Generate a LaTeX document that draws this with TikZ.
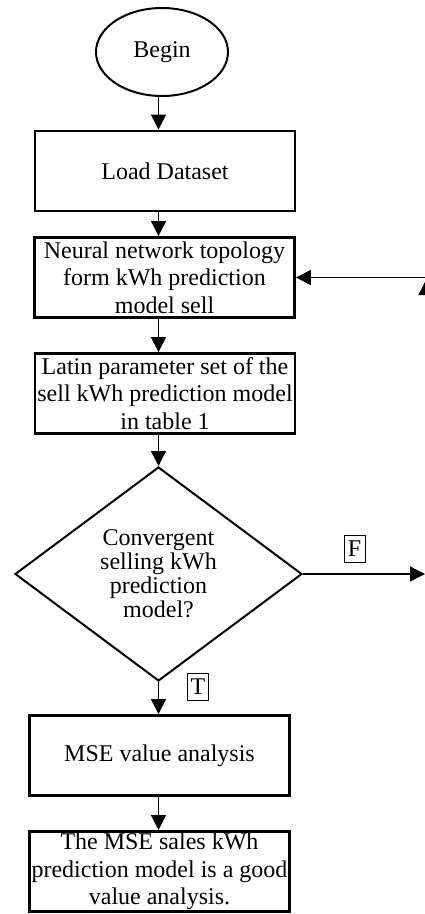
\documentclass[tikz,border=0pt]{standalone}
\usepackage{fontspec}
\setmainfont{Liberation Serif}
\usetikzlibrary{arrows.meta,shapes.geometric}
\tikzset{
	stepbox/.style={draw, line width=1mm, minimum width=260pt, minimum height=80pt, inner sep=0pt, align=center, font=\fontsize{24}{27.5}\selectfont},
	startend/.style={draw, ellipse, line width=0.7mm, minimum width=132pt, minimum height=88pt, inner sep=0pt, font=\fontsize{24}{27.5}\selectfont},
	test/.style={draw, diamond, line width=0.7mm, minimum width=287pt, minimum height=214pt, inner sep=0pt, align=center, font=\fontsize{24}{24}\selectfont},
	flag/.style={draw, line width=0.35mm, minimum width=21pt, minimum height=27pt, inner sep=0pt, font=\fontsize{24}{27.5}\selectfont},
	flow/.style={line width=0.45mm, -{Triangle[length=15pt,width=15pt]}}
}

\begin{document}
\begin{tikzpicture}[x=1pt, y=-1pt]
			%%%%% START %%%%%
			
			\useasboundingbox (0,0) rectangle (425,914);
			\clip (0,0) rectangle (425,914);
			
			\coordinate (spine) at (158.5,0);
			\coordinate (edge) at (425,0);
			\coordinate (retin) at (428,0);
			\coordinate (rettip) at (426,280);
			
			\node[startend] (begin) at (162,52) {Begin};
			\node[stepbox] (load) at (165,171) {Load Dataset};
			\node[stepbox] (topo) at (164.5,277.5) {Neural network topology\\form kWh prediction\\model sell};
			\node[stepbox] (latin) at (165,393.5) {Latin parameter set of the\\sell kWh prediction model\\in table 1};
			
			\node[test] (conv) at (158.5,574) {Convergent\\selling kWh\\prediction\\model?};
			
			\node[stepbox] (mse) at (159.5,755.5) {MSE value analysis};
			\node[stepbox] (good) at (159.5,871.5) {The MSE sales kWh\\prediction model is a good\\value analysis.};
			
			\node[flag] (false) at (354.5,549) {F};
			\node[flag] (true) at (198,687) {T};
			
			\draw[flow] (spine |- begin.south) -- (spine |- load.north);
			\draw[flow] (spine |- load.south) -- (spine |- topo.north);
			\draw[flow] (spine |- topo.south) -- (spine |- latin.north);
			\draw[flow] (spine |- latin.south) -- (conv.north);
			\draw[flow] (conv.south) -- (spine |- mse.north);
			\draw[flow] (spine |- mse.south) -- (spine |- good.north);
			
			\draw[flow] (conv.east) -- (edge |- conv.east);
			\draw[flow] (rettip |- conv.east) -- (rettip);
			\draw[flow] (retin |- topo.east) -- (topo.east);
			
			%%%%% END %%%%%
\end{tikzpicture}
\end{document}
